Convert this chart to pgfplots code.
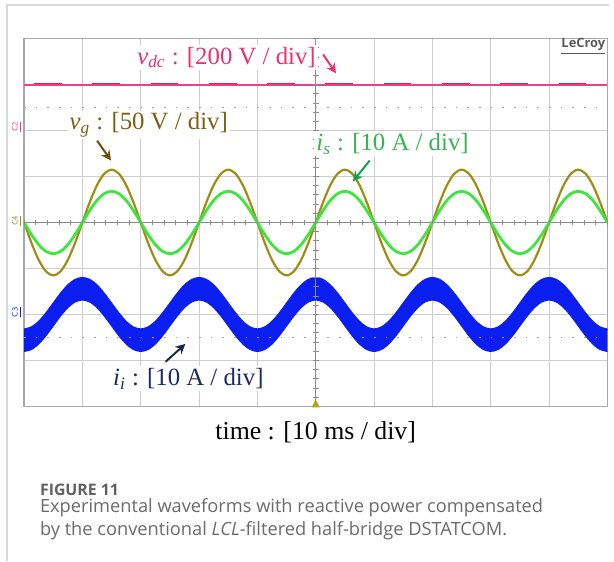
\documentclass[border=0pt]{standalone}
\usepackage{fontspec}
\setmainfont{Liberation Serif}
\newfontfamily\capfont{Open Sans}
\usepackage{pgfplots}
\usepackage{pgfplotstable}
\pgfplotsset{compat=1.18}
\usepgfplotslibrary{fillbetween}
\usetikzlibrary{arrows.meta}

\definecolor{vdccol}{HTML}{F23C86}
\definecolor{vdcdark}{HTML}{D0205E}
\definecolor{vdclab}{HTML}{E8336E}
\definecolor{vgcol}{HTML}{A08C14}
\definecolor{vglab}{HTML}{7D5F14}
\definecolor{vgarr}{HTML}{6E4E0E}
\definecolor{iscol}{HTML}{3CE63C}
\definecolor{islab}{HTML}{35B450}
\definecolor{isarr}{HTML}{14A050}
\definecolor{iicol}{HTML}{0A1EF0}
\definecolor{iilab}{HTML}{1E2864}
\definecolor{iiarr}{HTML}{142846}
\definecolor{gridgray}{HTML}{CDCDCD}
\definecolor{framegray}{HTML}{A8A8A8}
\definecolor{centergray}{HTML}{8C8C8C}
\definecolor{pagegray}{HTML}{D9D9D9}
\definecolor{captext}{HTML}{6B6B6B}

% t in ms, traces in divisions (0 = centre of screen)
\pgfplotstableread{
t vg is iu il
0 0 0 -2.320 -2.800
1.25 -0.440 -0.260 -2.277 -2.757
2.5 -0.813 -0.481 -2.156 -2.636
3.75 -1.063 -0.628 -1.974 -2.454
5 -1.150 -0.680 -1.760 -2.240
6.25 -1.063 -0.628 -1.546 -2.026
7.5 -0.813 -0.481 -1.364 -1.844
8.75 -0.440 -0.260 -1.243 -1.723
10 0 0 -1.200 -1.680
11.25 0.440 0.260 -1.243 -1.723
12.5 0.813 0.481 -1.364 -1.844
13.75 1.063 0.628 -1.546 -2.026
15 1.150 0.680 -1.760 -2.240
16.25 1.063 0.628 -1.974 -2.454
17.5 0.813 0.481 -2.156 -2.636
18.75 0.440 0.260 -2.277 -2.757
20 0 0 -2.320 -2.800
21.25 -0.440 -0.260 -2.277 -2.757
22.5 -0.813 -0.481 -2.156 -2.636
23.75 -1.063 -0.628 -1.974 -2.454
25 -1.150 -0.680 -1.760 -2.240
26.25 -1.063 -0.628 -1.546 -2.026
27.5 -0.813 -0.481 -1.364 -1.844
28.75 -0.440 -0.260 -1.243 -1.723
30 0 0 -1.200 -1.680
31.25 0.440 0.260 -1.243 -1.723
32.5 0.813 0.481 -1.364 -1.844
33.75 1.063 0.628 -1.546 -2.026
35 1.150 0.680 -1.760 -2.240
36.25 1.063 0.628 -1.974 -2.454
37.5 0.813 0.481 -2.156 -2.636
38.75 0.440 0.260 -2.277 -2.757
40 0 0 -2.320 -2.800
41.25 -0.440 -0.260 -2.277 -2.757
42.5 -0.813 -0.481 -2.156 -2.636
43.75 -1.063 -0.628 -1.974 -2.454
45 -1.150 -0.680 -1.760 -2.240
46.25 -1.063 -0.628 -1.546 -2.026
47.5 -0.813 -0.481 -1.364 -1.844
48.75 -0.440 -0.260 -1.243 -1.723
50 0 0 -1.200 -1.680
51.25 0.440 0.260 -1.243 -1.723
52.5 0.813 0.481 -1.364 -1.844
53.75 1.063 0.628 -1.546 -2.026
55 1.150 0.680 -1.760 -2.240
56.25 1.063 0.628 -1.974 -2.454
57.5 0.813 0.481 -2.156 -2.636
58.75 0.440 0.260 -2.277 -2.757
60 0 0 -2.320 -2.800
61.25 -0.440 -0.260 -2.277 -2.757
62.5 -0.813 -0.481 -2.156 -2.636
63.75 -1.063 -0.628 -1.974 -2.454
65 -1.150 -0.680 -1.760 -2.240
66.25 -1.063 -0.628 -1.546 -2.026
67.5 -0.813 -0.481 -1.364 -1.844
68.75 -0.440 -0.260 -1.243 -1.723
70 0 0 -1.200 -1.680
71.25 0.440 0.260 -1.243 -1.723
72.5 0.813 0.481 -1.364 -1.844
73.75 1.063 0.628 -1.546 -2.026
75 1.150 0.680 -1.760 -2.240
76.25 1.063 0.628 -1.974 -2.454
77.5 0.813 0.481 -2.156 -2.636
78.75 0.440 0.260 -2.277 -2.757
80 0 0 -2.320 -2.800
81.25 -0.440 -0.260 -2.277 -2.757
82.5 -0.813 -0.481 -2.156 -2.636
83.75 -1.063 -0.628 -1.974 -2.454
85 -1.150 -0.680 -1.760 -2.240
86.25 -1.063 -0.628 -1.546 -2.026
87.5 -0.813 -0.481 -1.364 -1.844
88.75 -0.440 -0.260 -1.243 -1.723
90 0 0 -1.200 -1.680
91.25 0.440 0.260 -1.243 -1.723
92.5 0.813 0.481 -1.364 -1.844
93.75 1.063 0.628 -1.546 -2.026
95 1.150 0.680 -1.760 -2.240
96.25 1.063 0.628 -1.974 -2.454
97.5 0.813 0.481 -2.156 -2.636
98.75 0.440 0.260 -2.277 -2.757
100 0 0 -2.320 -2.800
}\waves

\newcommand{\lab}{\fontsize{12.5}{14}\selectfont}

\begin{document}
\begin{tikzpicture}
% page area: 614 x 566 px at 0.5pt per px
\path (0pt,0pt) rectangle (307pt,283pt);
\draw[pagegray, line width=0.6pt] (3.5pt,0pt) -- (3.5pt,280.5pt) -- (307pt,280.5pt);

\begin{axis}[
    at={(12.15pt,78pt)}, anchor=south west,
    scale only axis,
    width=294.25pt, height=185.5pt,
    xmin=0, xmax=100, ymin=-4, ymax=4,
    xtick={0,10,...,100}, ytick={-4,-3,...,4},
    xticklabels={}, yticklabels={},
    major tick length=0pt,
    grid=major,
    grid style={gridgray, line width=0.5pt},
    axis line style={framegray, line width=0.8pt},
]
% dotted reference rows
\draw[gridgray!80!black, line width=0.9pt, dash pattern=on 0.8pt off 5.085pt] (axis cs:0,2.5) -- (axis cs:100,2.5);
\draw[gridgray!80!black, line width=0.9pt, dash pattern=on 0.8pt off 5.085pt] (axis cs:0,-2.5) -- (axis cs:100,-2.5);
% centre cross
\draw[centergray, line width=0.6pt] (axis cs:50,-4) -- (axis cs:50,4);
\draw[centergray, line width=0.6pt] (axis cs:0,0) -- (axis cs:100,0);

\addplot[name path=U, draw=iicol, line width=0.8pt, smooth] table[x=t, y=iu] {\waves};
\addplot[name path=L, draw=iicol, line width=0.8pt, smooth] table[x=t, y=il] {\waves};
\addplot[iicol] fill between[of=U and L];

\addplot[vgcol, line width=1.1pt, smooth] table[x=t, y=vg] {\waves};
\addplot[iscol, line width=1.4pt, smooth] table[x=t, y=is] {\waves};

\addplot[vdccol, line width=1pt] coordinates {(0,3) (100,3)};
\addplot[vdcdark, line width=0.6pt, dash pattern=on 14pt off 15.4pt, dash phase=-5pt] coordinates {(0,3.03) (100,3.03)};
\end{axis}

\begin{scope}[x=0.5pt, y=0.5pt]
% minor ticks on the centre cross
\foreach \i in {0,...,50} \draw[centergray, line width=0.5pt] (24.3+\i*11.77,338.5) -- ++(0,6);
\foreach \j in {0,...,40} \draw[centergray, line width=0.5pt] (315.55,156+\j*9.275) -- ++(6,0);

% trigger marker
\fill[vgcol!80!yellow] (314.5,155) -- (322.5,155) -- (318.5,163) -- cycle;

% channel markers
\node[vdccol, rotate=90, font=\fontsize{4}{4}\sffamily, inner sep=0pt] at (17,438) {\underline{C2}};
\node[vgcol, rotate=90, font=\fontsize{4}{4}\sffamily, inner sep=0pt] at (17,343) {\underline{C4}};
\node[iicol, rotate=90, font=\fontsize{4}{4}\sffamily, inner sep=0pt] at (17,251) {\underline{C3}};

\node[anchor=east, text=black!65, font=\capfont\fontsize{6.5}{7}\selectfont\bfseries, inner sep=0pt] at (611,519) {\underline{LeCroy}};

% trace labels
\node[fill=white, inner sep=1pt, text=vdclab, font=\lab] at (228.5,508) {\textit{v}\textsubscript{\textit{dc}} : [200 V / div]};
\node[fill=white, inner sep=1pt, text=vglab, font=\lab] at (150,440) {\textit{v}\textsubscript{\textit{g}} : [50 V / div]};
\node[fill=white, inner sep=1pt, text=islab, font=\lab] at (396,421) {\textit{i}\textsubscript{\textit{s}} : [10 A / div]};
\node[fill=white, inner sep=1pt, text=iilab, font=\lab] at (190,184) {\textit{i}\textsubscript{\textit{i}} : [10 A / div]};
\node[font=\fontsize{13}{15}\selectfont] at (318.5,130) {time : [10 ms / div]};

% arrows
\draw[vdclab, line width=1pt, -{Stealth[length=5pt, width=5pt]}] (326,511) -- (339,492);
\draw[vgarr, line width=1pt, -{Stealth[length=5pt, width=5pt]}] (98,424) -- (112,404);
\draw[isarr, line width=1pt, -{Stealth[length=5pt, width=5pt]}] (373,404) -- (356,383);
\draw[iiarr, line width=1pt, -{Stealth[length=5pt, width=5pt]}] (167,201) -- (187,219);

% caption
\node[anchor=base west, inner sep=0pt, text=captext!90!black, font=\capfont\bfseries\fontsize{8}{10}\selectfont] at (40,66) {FIGURE 11};
\node[anchor=base west, inner sep=0pt, text=captext, font=\capfont\fontsize{9.2}{11}\selectfont] at (40,49) {Experimental waveforms with reactive power compensated};
\node[anchor=base west, inner sep=0pt, text=captext, font=\capfont\fontsize{9.2}{11}\selectfont] at (40,26) {by the conventional \textit{LCL}-filtered half-bridge DSTATCOM.};
\end{scope}
\end{tikzpicture}
\end{document}
